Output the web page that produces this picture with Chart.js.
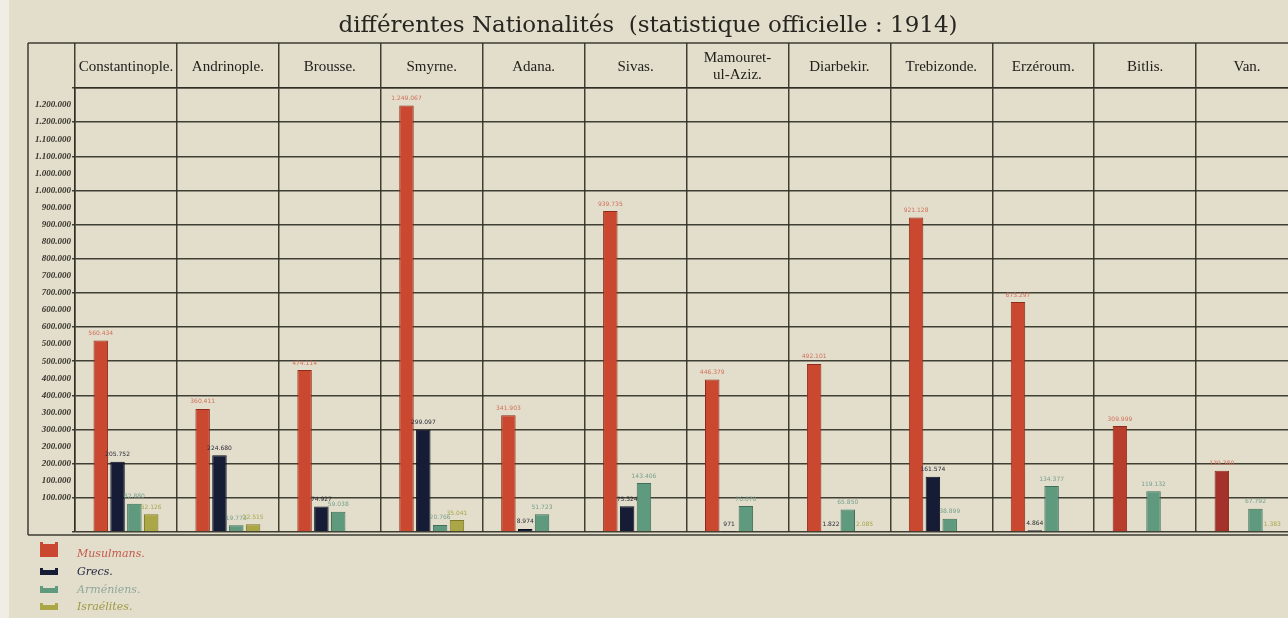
<!DOCTYPE html>
<html>
<head>
<meta charset="utf-8">
<title>Nationalités 1914</title>
<script src="https://cdn.jsdelivr.net/npm/chart.js@4.4.1/dist/chart.umd.min.js"></script>
<style>
  html, body { margin: 0; padding: 0; overflow: hidden; background: #e3decb; }
  #wrap { position: relative; width: 1298px; height: 618px; }
</style>
</head>
<body>
<div id="wrap"><canvas id="nationalites"></canvas></div>
<script>
// Provinces (vilayets) and population per community, official statistics of 1914
const provinces = ['Constantinople.', 'Andrinople.', 'Brousse.', 'Smyrne.', 'Adana.', 'Sivas.',
  ['Mamouret-', 'ul-Aziz.'], 'Diarbekir.', 'Trebizonde.', 'Erzéroum.', 'Bitlis.', 'Van.'];

const musulmans  = [560434, 360411, 474114, 1249067, 341903, 939735, 446379, 492101, 921128, 673297, 309999, 179380];
const grecs      = [205752, 224680, 74927, 299097, 8974, 75324, 971, 1822, 161574, 4864, null, null];
const armeniens  = [82880, 19773, 59038, 20766, 51723, 143406, 76070, 65850, 38899, 134377, 119132, 67792];
const israelites = [52126, 22515, null, 35041, null, null, null, 2085, null, null, null, 1383];

const legendNames = ['Musulmans.', 'Grecs.', 'Arméniens.', 'Israélites.'];
const titleText = 'différentes Nationalités  (statistique officielle : 1914)';

const GRID = 'rgba(45,45,36,0.9)';
const PAPER = '#e3decb';

const fill   = ['#c9482f', '#161b36', '#5f9a7f', '#aba646'];
const edge   = ['#8e2c1c', '#0b0e20', '#3f6f5a', '#7d7a2c'];
const labelC = ['#d0705c', '#2a2c38', '#79a08f', '#a9a64e'];
const legendC = ['#c25a4c', '#1d2240', '#8fa89d', '#9c9a44'];

// the last two red columns were inked a little darker
const redFill = musulmans.map((v, i) => (i === 11 ? '#a3332a' : i === 10 ? '#b93d2c' : fill[0]));

function fmt(v) {
  return String(v).replace(/\B(?=(\d{3})+(?!\d))/g, '.');
}

// paper background, title, outer frame and the legend block under the chart
const frame = {
  id: 'frame',
  beforeDraw(chart) {
    const ctx = chart.ctx;
    ctx.save();
    ctx.fillStyle = PAPER;
    ctx.fillRect(0, 0, chart.width, chart.height);
    ctx.fillStyle = '#efede4';
    ctx.fillRect(0, 0, 9, chart.height);
    ctx.restore();
  },
  afterDraw(chart) {
    const ctx = chart.ctx;
    const a = chart.chartArea;
    const left = 28, top = 43;
    ctx.save();

    ctx.fillStyle = '#26251f';
    ctx.font = '23px "DejaVu Serif"';
    ctx.textAlign = 'center';
    ctx.textBaseline = 'middle';
    ctx.fillText(titleText, 648, 26);

    ctx.strokeStyle = GRID;
    ctx.lineWidth = 1.5;
    ctx.beginPath();
    ctx.moveTo(left, top); ctx.lineTo(chart.width, top);
    ctx.moveTo(left, top); ctx.lineTo(left, a.bottom + 3);
    ctx.moveTo(left, a.bottom + 3); ctx.lineTo(chart.width, a.bottom + 3);
    ctx.stroke();

    // legend: small notched swatches with script captions
    const rows = [553, 571, 589, 606];
    rows.forEach((y, i) => {
      const h = i === 0 ? 15 : 7;
      const x = 40, w = 18;
      ctx.fillStyle = fill[i];
      ctx.beginPath();
      ctx.moveTo(x, y - h + 4);
      ctx.lineTo(x + 3, y - h + 4);
      ctx.lineTo(x + 3, y - h + 6);
      ctx.lineTo(x + w - 3, y - h + 6);
      ctx.lineTo(x + w - 3, y - h + 4);
      ctx.lineTo(x + w, y - h + 4);
      ctx.lineTo(x + w, y + 4);
      ctx.lineTo(x, y + 4);
      ctx.closePath();
      ctx.fill();
      ctx.fillStyle = legendC[i];
      ctx.font = 'italic 11px "DejaVu Serif"';
      ctx.textAlign = 'left';
      ctx.textBaseline = 'middle';
      ctx.fillText(legendNames[i], 77, y + 1);
    });
    ctx.restore();
  }
};

// tiny value written above every bar
const valueLabels = {
  id: 'valueLabels',
  afterDatasetsDraw(chart) {
    const ctx = chart.ctx;
    ctx.save();
    ctx.font = '6px "DejaVu Sans"';
    ctx.textAlign = 'center';
    ctx.textBaseline = 'bottom';
    chart.data.datasets.forEach((ds, di) => {
      const meta = chart.getDatasetMeta(di);
      meta.data.forEach((bar, i) => {
        const v = ds.data[i];
        if (v == null) return;
        ctx.fillStyle = labelC[di];
        ctx.fillText(fmt(v), bar.x, bar.y - 4);
      });
    });
    ctx.restore();
  }
};

const series = [musulmans, grecs, armeniens, israelites];

new Chart(document.getElementById('nationalites'), {
  type: 'bar',
  data: {
    labels: provinces,
    datasets: series.map((d, i) => ({
      label: legendNames[i],
      data: d,
      backgroundColor: i === 0 ? redFill : fill[i],
      borderColor: edge[i],
      borderWidth: 1,
      categoryPercentage: 0.66,
      barPercentage: 0.86,
    })),
  },
  options: {
    responsive: true,
    maintainAspectRatio: false,
    animation: false,
    layout: { padding: { left: 28, right: 0, top: 43, bottom: 86 } },
    plugins: {
      legend: { display: false },
      tooltip: { enabled: false },
    },
    scales: {
      x: {
        position: 'top',
        grid: { color: GRID, lineWidth: 1.5, tickLength: 45, offset: true },
        border: { color: GRID, width: 1.5 },
        ticks: {
          color: '#22211c',
          font: { family: '"Liberation Serif"', size: 15, lineHeight: 1.1 },
          autoSkip: false,
          maxRotation: 0,
          minRotation: 0,
          crossAlign: 'center',
          padding: -32,
        },
        afterFit(scale) { scale.height = 45; },
      },
      y: {
        min: 0,
        max: 1300000,
        grid: {
          lineWidth: 1.5,
          tickLength: 3,
          color: (c) => (c.tick && c.tick.value % 100000 === 0 ? GRID : 'rgba(0,0,0,0)'),
        },
        border: { color: GRID, width: 1.5 },
        ticks: {
          stepSize: 50000,
          padding: 1,
          color: '#35332c',
          font: { family: '"Liberation Serif"', size: 9, style: 'italic', weight: 'bold' },
          callback: (v) => (v < 100000 || v > 1250000 ? '' : fmt(Math.floor(v / 100000) * 100000)),
        },
        afterFit(scale) { scale.width = 47; },
      },
    },
  },
  plugins: [frame, valueLabels],
});
</script>
</body>
</html>
